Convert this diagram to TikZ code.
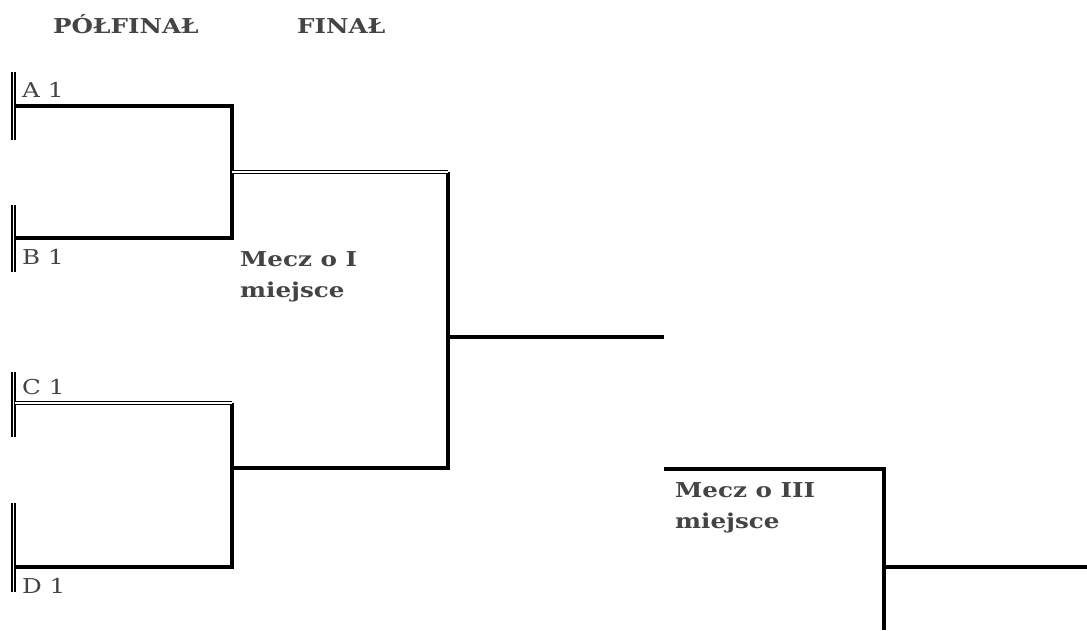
\documentclass[tikz,border=0pt]{standalone}
\usepackage{fontspec}
\setmainfont{DejaVu Serif}[FakeStretch = 1.2]
\definecolor{labelgray}{HTML}{444444}

\begin{document}
\begin{tikzpicture}[%
        x = 1pt, y = -1pt,
        bracket/.style = {%
            line width = 3.3pt,
            line join = miter
        },
        twin/.style = {%
            double,
            double distance = 1.8pt,
            line width = 1.2pt
        },
        seed/.style = {%
            text = labelgray,
            font = \fontsize{20.5}{22}\selectfont,
            inner sep = 0pt,
            anchor = base west
        },
        head/.style = {%
            seed,
            font = \fontsize{20.5}{31}\selectfont\bfseries,
            align = left
        }
    ]

        \useasboundingbox (0,0) rectangle (1087,630);

        % Coordinates for the semifinal brackets.
        \coordinate (aL) at (15,106);
        \coordinate (aR) at (232,106);
        \coordinate (bL) at (15,238);
        \coordinate (bR) at (232,238);
        \coordinate (abM) at (232,172);
        \coordinate (cL) at (15,403);
        \coordinate (cR) at (232,403);
        \coordinate (dL) at (15,567);
        \coordinate (dR) at (232,567);
        \coordinate (cdM) at (232,468);

        % Coordinates for the final.
        \coordinate (fT) at (448,172);
        \coordinate (fB) at (448,468);
        \coordinate (fM) at (448,337);
        \coordinate (fE) at (664,337);

        % Coordinates for the third place match.
        \coordinate (tS) at (664,469);
        \coordinate (tT) at (884,469);
        \coordinate (tB) at (884,630);
        \coordinate (tM) at (884,567);
        \coordinate (tE) at (1087,567);

        % Double bars in front of the teams.
        \draw[twin] (13.5,72) to (13.5,140);
        \draw[twin] (13.5,205) to (13.5,272);
        \draw[twin] (13.5,372) to (13.5,437);
        \draw[twin] (13.5,503) to (13.5,592);

        % Solid brackets.
        \draw[bracket] (aL) -- (aR) -- (bR) -- (bL);
        \draw[bracket] (cR) -- (dR) -- (dL);
        \draw[bracket] (cdM) -- (fB) -- (fT);
        \draw[bracket] (fM) -- (fE);
        \draw[bracket] (tS) -- (tT) -- (tB);
        \draw[bracket] (tM) -- (tE);

        % Double lines.
        \draw[twin] (abM) to (fT);
        \draw[twin] (cL) to (cR);

        % Label the rounds.
        \node (polfinal) at (53,33) [head] {PÓŁFINAŁ};
        \node (final) at (297,33) [head] {FINAŁ};

        % Label the teams.
        \node (a1) at (22,97) [seed] {A 1};
        \node (b1) at (22,264) [seed] {B 1};
        \node (c1) at (22,394) [seed] {C 1};
        \node (d1) at (22,593) [seed] {D 1};

        % Label the matches.
        \node (first) at (240,297) [head] {Mecz o I\\miejsce};
        \node (third) at (675,528) [head] {Mecz o III\\miejsce};
    \end{tikzpicture}
\end{document}
